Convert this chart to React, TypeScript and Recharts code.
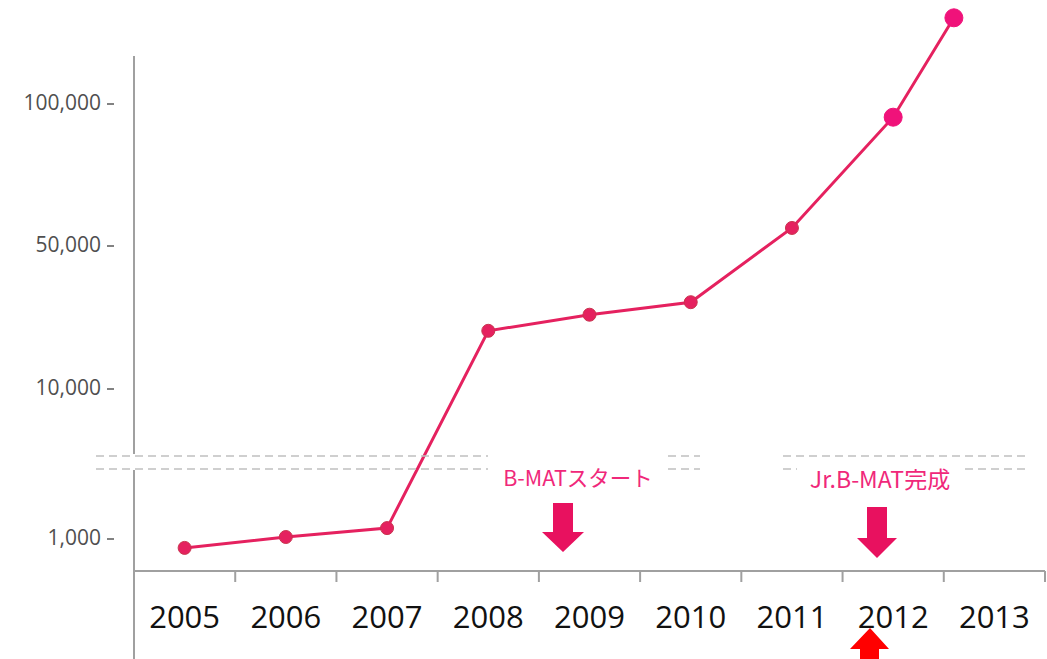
import { Line, LineChart, XAxis, YAxis } from "recharts"

const years = [2005, 2006, 2007, 2008, 2009, 2010, 2011, 2012, 2013]
// the last point sits just past the 2012/2013 boundary
const pointYears = [2005, 2006, 2007, 2008, 2009, 2010, 2011, 2012, 2012.6]
const members = [700, 1030, 1300, 26000, 30500, 34000, 56000, 95000, 130000]
const yTicks = [1000, 10000, 50000, 100000]
const yTickLabels = ["1,000", "10,000", "50,000", "100,000"]
const bandEdges = [2005.5, 2006.5, 2007.5, 2008.5, 2009.5, 2010.5, 2011.5, 2012.5, 2013.5]

// broken axis: 0..3,300 below the break, 10,000 and up above it
const knotValues = [0, 1000, 3300, 10000, 50000, 100000, 150000]
const knotPos = [0, 33, 109, 183, 326, 468, 610]

function toAxis(v: number) {
  for (let i = 1; i < knotValues.length; i++) {
    if (v <= knotValues[i] || i === knotValues.length - 1) {
      const t = (v - knotValues[i - 1]) / (knotValues[i] - knotValues[i - 1])
      return knotPos[i - 1] + t * (knotPos[i] - knotPos[i - 1])
    }
  }
  return 0
}

const data = pointYears.map((x, i) => ({ x, y: toAxis(members[i]), members: members[i] }))

const PINK = "#e5215f"
const MAGENTA = "#f0127a"

function YTick(props: any) {
  const { y, index } = props
  return (
    <g>
      <text x={101} y={y} dy="0.35em" textAnchor="end" fill="#4f4f4f" fontSize={21} fontFamily="Open Sans">
        {yTickLabels[index]}
      </text>
      <line x1={107} x2={114} y1={y + 1} y2={y + 1} stroke="#595959" strokeWidth={1.5} />
    </g>
  )
}

function renderDot(props: any) {
  const { cx, cy, index } = props
  const big = index >= members.length - 2
  return (
    <circle
      key={index}
      cx={cx}
      cy={cy}
      r={big ? 9 : 6.5}
      fill={big ? MAGENTA : PINK}
      stroke={big ? MAGENTA : "#c9354f"}
      strokeWidth={1}
    />
  )
}

export default function App() {
  return (
    <div style={{ position: "absolute", left: 0, top: 0, width: 1047, height: 659, background: "#fff" }}>
      <LineChart width={1047} height={659} data={data} margin={{ top: 10, right: 2, left: 0, bottom: 0 }}>
        <XAxis
          xAxisId="edges"
          dataKey="x"
          type="number"
          domain={[2004.5, 2013.5]}
          ticks={bandEdges}
          tickFormatter={() => ""}
          height={12}
          tickSize={11}
          stroke="#a0a0a0"
          strokeWidth={2}
        />
        <XAxis
          xAxisId="years"
          dataKey="x"
          type="number"
          domain={[2004.5, 2013.5]}
          ticks={years}
          height={76}
          axisLine={false}
          tickLine={false}
          tickSize={0}
          tickMargin={23}
          tick={{ fill: "#111", fontSize: 31, fontFamily: "Open Sans" }}
        />
        <YAxis
          type="number"
          domain={[0, 561]}
          ticks={yTicks.map(toAxis)}
          width={134}
          axisLine={false}
          tickLine={false}
          tick={<YTick />}
        />
        <Line
          xAxisId="edges"
          dataKey="y"
          stroke={PINK}
          strokeWidth={3}
          dot={renderDot}
          activeDot={false}
          isAnimationActive={false}
        />
      </LineChart>
      <svg width={1047} height={659} style={{ position: "absolute", left: 0, top: 0, pointerEvents: "none" }}>
        {/* y axis with the break */}
        <line x1={134} x2={134} y1={56} y2={454} stroke="#a0a0a0" strokeWidth={2} />
        <line x1={134} x2={134} y1={470} y2={659} stroke="#a0a0a0" strokeWidth={2} />
        <g stroke="#c0c0c0" strokeWidth={1.6} strokeDasharray="8 5">
          <line x1={96} x2={488} y1={456} y2={456} />
          <line x1={96} x2={488} y1={469} y2={469} />
          <line x1={668} x2={700} y1={456} y2={456} />
          <line x1={668} x2={700} y1={469} y2={469} />
          <line x1={783} x2={1028} y1={456} y2={456} />
          <line x1={783} x2={797} y1={469} y2={469} />
          <line x1={965} x2={1028} y1={469} y2={469} />
        </g>
        <text x={578} y={478} dy="0.35em" textAnchor="middle" fill="#f0287a" fontSize={21.5} fontFamily="Noto Sans CJK JP">
          B-MATスタート
        </text>
        <text x={880} y={480} dy="0.35em" textAnchor="middle" fill="#f0287a" fontSize={23} fontFamily="Noto Sans CJK JP">
          Jr.B-MAT完成
        </text>
        <polygon points="553,503 573,503 573,532 584,532 563,552 542,532 553,532" fill="#e8115f" />
        <polygon points="867,507 887,507 887,538 897,538 877,558 857,538 867,538" fill="#e8115f" />
        <polygon points="870,628 889,649 879,649 879,659 860,659 860,649 850,649" fill="#ff0000" />
      </svg>
    </div>
  )
}
